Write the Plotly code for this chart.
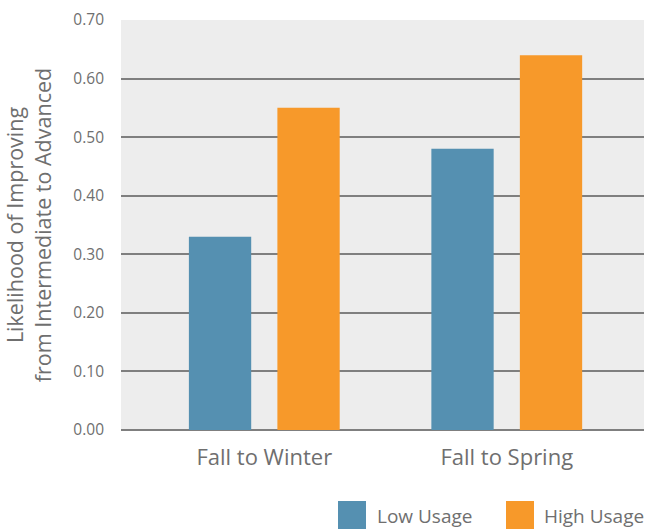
import plotly.graph_objects as go

# Likelihood of moving from Intermediate to Advanced, by usage level
periods = ["Fall to Winter", "Fall to Spring"]
low_usage = [0.33, 0.48]
high_usage = [0.55, 0.64]
series_names = ["Low Usage", "High Usage"]
y_ticks = [0.0, 0.1, 0.2, 0.3, 0.4, 0.5, 0.6, 0.7]
y_tick_text = ["0.00", "0.10", "0.20", "0.30", "0.40", "0.50", "0.60", "0.70"]

BLUE = "#5590b1"
ORANGE = "#f7992a"
TEXT = "#6f6f6f"
FONT = "'Open Sans', sans-serif"

W, H = 649, 529
M_L, M_R, M_T, M_B = 121, 5, 20, 99

fig = go.Figure()
fig.add_trace(go.Bar(x=periods, y=low_usage, name=series_names[0],
                     marker=dict(color=BLUE, line=dict(width=0)),
                     width=0.257, offset=-0.311, showlegend=False))
fig.add_trace(go.Bar(x=periods, y=high_usage, name=series_names[1],
                     marker=dict(color=ORANGE, line=dict(width=0)),
                     width=0.257, offset=0.054, showlegend=False))

# Legend drawn as swatches + labels below the plot
plot_w = W - M_L - M_R
plot_h = H - M_T - M_B


def px_x(px):
    return (px - M_L) / plot_w


def px_y(py):
    return (H - M_B - py) / plot_h


shapes = []
annotations = []
legend_items = [(series_names[0], BLUE, 338, 375), (series_names[1], ORANGE, 506, 542)]
for name, color, sx, tx in legend_items:
    shapes.append(dict(type="rect", xref="paper", yref="paper",
                       x0=px_x(sx), x1=px_x(sx + 28), y0=px_y(529), y1=px_y(501),
                       fillcolor=color, line=dict(width=0)))
    annotations.append(dict(xref="paper", yref="paper", x=px_x(tx), y=px_y(516),
                            text=name, showarrow=False, xanchor="left", yanchor="middle",
                            font=dict(size=19, color=TEXT, family=FONT)))

fig.update_layout(
    width=W, height=H,
    margin=dict(l=M_L, r=M_R, t=M_T, b=M_B, pad=0),
    paper_bgcolor="white",
    plot_bgcolor="#ededed",
    font=dict(family=FONT, color=TEXT),
    barmode="group",
    shapes=shapes,
    annotations=annotations,
    xaxis=dict(
        type="category",
        range=[-0.591, 1.566],
        showgrid=False,
        showline=False,
        zeroline=False,
        ticks="",
        tickfont=dict(size=22, color=TEXT, family=FONT),
        ticklabelstandoff=12,
    ),
    yaxis=dict(
        range=[0, 0.7],
        tickvals=y_ticks,
        ticktext=y_tick_text,
        showgrid=True,
        gridcolor="#7f7f7f",
        gridwidth=2,
        zeroline=True,
        zerolinecolor="#7f7f7f",
        zerolinewidth=2,
        showline=False,
        ticks="",
        tickfont=dict(size=15.5, color=TEXT, family=FONT),
        ticklabelstandoff=16,
        title=dict(text="Likelihood of Improving<br>from Intermediate to Advanced",
                   font=dict(size=21.5, color=TEXT, family=FONT), standoff=18),
    ),
)

fig.write_html("out.html")
